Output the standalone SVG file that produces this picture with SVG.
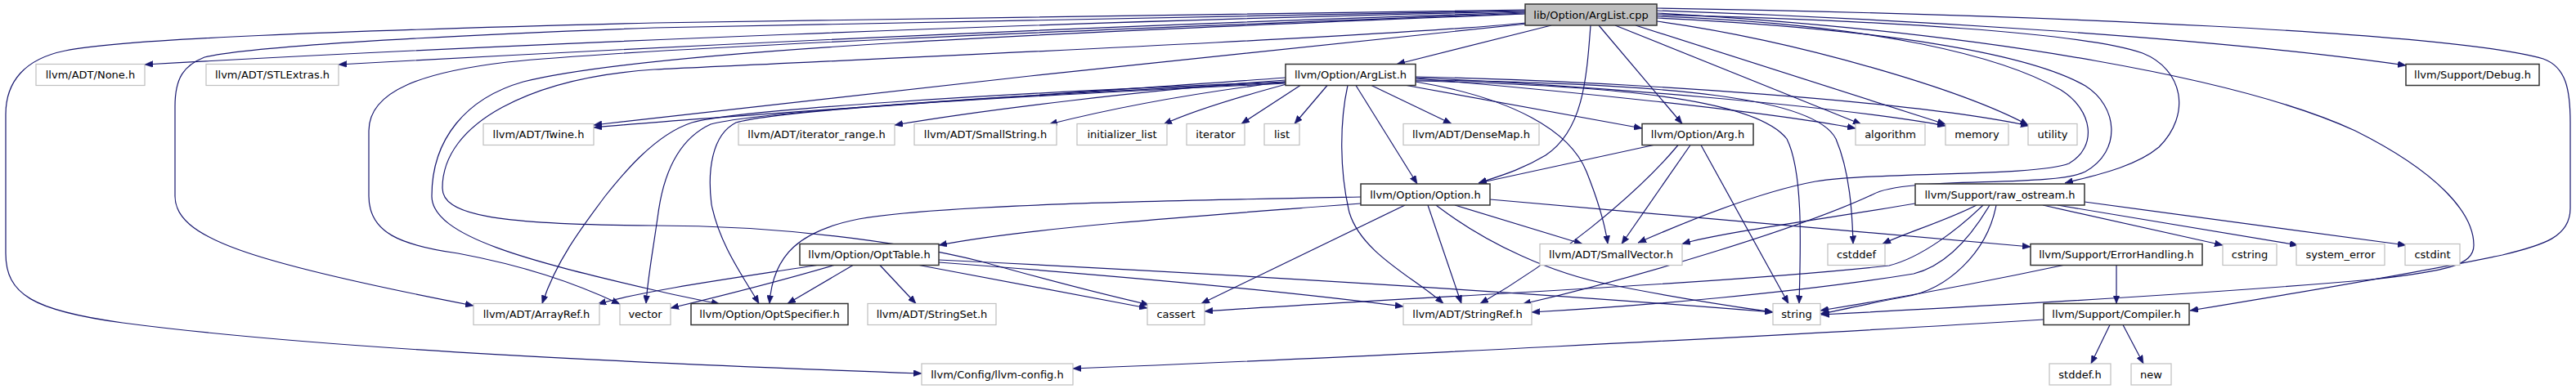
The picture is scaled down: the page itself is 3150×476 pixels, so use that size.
<svg xmlns="http://www.w3.org/2000/svg" width="3150" height="476" viewBox="0 0 3150 476">
<style>
.e{fill:none;stroke:#191970;stroke-width:1.2;marker-end:url(#a)}
.n rect{fill:#fff;stroke:#bfbfbf;stroke-width:1.2}
.d rect{fill:#fff;stroke:#333;stroke-width:1.5}
.r rect{fill:#bfbfbf;stroke:#333;stroke-width:1.5}
text{font-family:"DejaVu Sans","Liberation Sans",sans-serif;font-size:13px;text-anchor:middle;fill:#000}
</style>
<defs>
<marker id="a" markerUnits="userSpaceOnUse" markerWidth="11" markerHeight="8" refX="10" refY="4" orient="auto">
<path d="M0,0 L10,4 L0,8 z" fill="#191970" stroke="#191970" stroke-width="0.5"/>
</marker>
</defs>
<rect width="3150" height="476" fill="#fff"/>
<g id="edges">
<path class="e" d="M1865,12 L800,28 C400,38 150,48 80,62 C30,72 7,100 7,140 L7,310 C7,360 40,380 150,395 C400,428 800,445 1127,457"/>
<path class="e" d="M1865,13 L800,34 C500,45 300,58 250,70 C225,80 214,95 214,130 L214,240 C214,290 300,320 579,374"/>
<path class="e" d="M1865,14 C1300,26 600,55 177,79"/>
<path class="e" d="M1865,15 C1400,30 900,52 414,79"/>
<path class="e" d="M1865,16 C1300,38 800,58 620,76 C520,88 451,110 451,160 L451,240 C451,285 490,300 560,310 C640,325 700,345 758,372"/>
<path class="e" d="M1865,17 C1300,40 800,60 640,100 C570,120 528,170 528,240 C528,290 650,320 800,355 C830,362 860,368 880,372"/>
<path class="e" d="M1866,28 C1700,45 1000,75 800,85 C650,95 541,150 541,230 C541,262 600,275 800,276 C950,276 1100,295 1200,320 C1300,348 1370,365 1405,373"/>
<path class="e" d="M1868,29 C1700,45 1000,120 726,153"/>
<path class="e" d="M1897,31 L1708,78.5"/>
<path class="e" d="M1945,31 C1940,100 1935,160 1890,190 C1860,208 1835,215 1808,224"/>
<path class="e" d="M1955,31 L2057,151.5"/>
<path class="e" d="M1975,31 L2276,152"/>
<path class="e" d="M2000,31 L2379,152"/>
<path class="e" d="M2026,26 C2200,50 2400,110 2480,153"/>
<path class="e" d="M2026,18 C2300,25 2550,40 2620,65 C2670,85 2680,140 2640,180 C2610,205 2560,215 2525,224"/>
<path class="e" d="M2026,13 C2300,22 2700,45 2942,80"/>
<path class="e" d="M2026,10 C2500,18 3000,40 3110,72 C3138,82 3143,110 3143,150 L3143,255 C3143,290 3110,300 3060,312 C2950,335 2800,360 2678,380"/>
<path class="e" d="M2026,16 C2450,40 2750,100 2880,160 C2980,210 3025,260 3025,300 C3025,325 2990,332 2900,342 C2700,360 2400,376 2227,385"/>
<path class="e" d="M2026,20 C2300,30 2450,70 2520,110 C2560,135 2565,180 2530,200 C2490,216 2300,210 2220,222 C2150,235 2060,272 2003,297"/>
<path class="e" d="M2026,22 C2300,35 2480,65 2550,105 C2590,130 2595,185 2550,210 C2510,230 2330,215 2290,238 C2200,280 2000,340 1862,372"/>
<path class="e" d="M1572,95 C1300,115 900,140 726,156"/>
<path class="e" d="M1572,98 C1400,110 1200,135 1094,153"/>
<path class="e" d="M1572,100 C1450,115 1350,135 1283,152"/>
<path class="e" d="M1573,103 C1510,120 1460,135 1423,152"/>
<path class="e" d="M1590,104.5 L1518,151.5"/>
<path class="e" d="M1623,104.5 L1583,151.5"/>
<path class="e" d="M1677,104.5 L1775,151.5"/>
<path class="e" d="M1658,104.5 L1733,225"/>
<path class="e" d="M1720,104.5 L2008,157"/>
<path class="e" d="M1648,104.5 C1638,150 1638,210 1650,260 C1665,310 1730,340 1765,371.5"/>
<path class="e" d="M1731,100 C1850,120 1920,160 1940,210 C1952,240 1962,270 1966,298.5"/>
<path class="e" d="M1731,96 C1900,110 2150,135 2269,157"/>
<path class="e" d="M1731,95 C1950,105 2250,130 2379,154"/>
<path class="e" d="M1731,94 C2000,100 2350,125 2481,154"/>
<path class="e" d="M1731,98 C2050,102 2220,120 2245,170 C2262,210 2265,260 2266,298.5"/>
<path class="e" d="M1731,99 C2000,105 2150,125 2185,170 C2205,210 2202,300 2200,371.5"/>
<path class="e" d="M1572,100 C1200,115 900,135 846,150 C800,165 760,215 740,240 C710,280 680,320 663,371.5"/>
<path class="e" d="M1572,101 C1200,118 920,138 869,152 C830,170 812,210 805,260 C798,310 792,340 790,371.5"/>
<path class="e" d="M1572,102 C1200,120 950,135 900,150 C870,165 865,210 870,250 C880,300 910,340 928,371.5"/>
<path class="e" d="M2022,177.5 L1808,224"/>
<path class="e" d="M2052,177.5 C2000,240 1900,320 1810,371.5"/>
<path class="e" d="M2067,177.5 L1983,298.5"/>
<path class="e" d="M2080,177.5 L2187,371.5"/>
<path class="e" d="M1779,251 L1935,298.5"/>
<path class="e" d="M1746,251 L1787,371.5"/>
<path class="e" d="M1756,251 C1820,300 1900,335 1968,348 C2050,365 2120,375 2168,382"/>
<path class="e" d="M1718,251 L1469,371.5"/>
<path class="e" d="M1664,249 C1450,265 1250,280 1148,300"/>
<path class="e" d="M1664,241 C1450,245 1150,250 1050,268 C980,282 945,310 941,371.5"/>
<path class="e" d="M1822,244 L2483,302"/>
<path class="e" d="M999,324.5 C900,340 790,355 731,372"/>
<path class="e" d="M1020,324.5 C950,345 870,365 820,377"/>
<path class="e" d="M1043,324.5 L963,371.5"/>
<path class="e" d="M1076,324.5 L1120,371.5"/>
<path class="e" d="M1124,324.5 L1403,377"/>
<path class="e" d="M1148,318 C1500,335 1900,360 2168,382"/>
<path class="e" d="M1148,321 C1400,340 1600,360 1716,375"/>
<path class="e" d="M2342,249 C2250,265 2100,285 2057,298.5"/>
<path class="e" d="M2417,251 C2380,270 2330,285 2302,298.5"/>
<path class="e" d="M2425,251 C2395,280 2350,315 2310,325 C2100,348 1700,365 1473,381"/>
<path class="e" d="M2433,251 C2410,290 2380,325 2340,335 C2200,358 2000,375 1873,382"/>
<path class="e" d="M2441,251 C2430,310 2380,355 2330,363 C2290,370 2260,378 2226,384"/>
<path class="e" d="M2498,251 L2718,300"/>
<path class="e" d="M2516,251 L2810,300"/>
<path class="e" d="M2549,247 L2942,300"/>
<path class="e" d="M2588,324.5 L2588,371.5"/>
<path class="e" d="M2523,324.5 C2450,340 2350,360 2226,380"/>
<path class="e" d="M2499,391 C2200,410 1600,440 1312,451"/>
<path class="e" d="M2580,397.5 L2557,445"/>
<path class="e" d="M2596,397.5 L2621,445"/>
</g>
<g id="n0" class="r"><rect x="1865" y="5" width="161" height="26"/><text x="1945.5" y="22.5">lib/Option/ArgList.cpp</text></g>
<g id="n1" class="n"><rect x="44" y="78.5" width="133" height="26"/><text x="110.5" y="96">llvm/ADT/None.h</text></g>
<g id="n2" class="n"><rect x="252" y="78.5" width="162" height="26"/><text x="333" y="96">llvm/ADT/STLExtras.h</text></g>
<g id="n3" class="d"><rect x="1572" y="78.5" width="159" height="26"/><text x="1651.5" y="96">llvm/Option/ArgList.h</text></g>
<g id="n4" class="d"><rect x="2942" y="78.5" width="163" height="26"/><text x="3023.5" y="96">llvm/Support/Debug.h</text></g>
<g id="n5" class="n"><rect x="591" y="151.5" width="135" height="26"/><text x="658.5" y="169">llvm/ADT/Twine.h</text></g>
<g id="n6" class="n"><rect x="903" y="151.5" width="191" height="26"/><text x="998.5" y="169">llvm/ADT/iterator_range.h</text></g>
<g id="n7" class="n"><rect x="1118" y="151.5" width="174" height="26"/><text x="1205" y="169">llvm/ADT/SmallString.h</text></g>
<g id="n8" class="n"><rect x="1317" y="151.5" width="110" height="26"/><text x="1372" y="169">initializer_list</text></g>
<g id="n9" class="n"><rect x="1451" y="151.5" width="71" height="26"/><text x="1486.5" y="169">iterator</text></g>
<g id="n10" class="n"><rect x="1546" y="151.5" width="43" height="26"/><text x="1567.5" y="169">list</text></g>
<g id="n11" class="n"><rect x="1716" y="151.5" width="166" height="26"/><text x="1799" y="169">llvm/ADT/DenseMap.h</text></g>
<g id="n12" class="d"><rect x="2008" y="151.5" width="136" height="26"/><text x="2076" y="169">llvm/Option/Arg.h</text></g>
<g id="n13" class="n"><rect x="2269" y="151.5" width="85" height="26"/><text x="2311.5" y="169">algorithm</text></g>
<g id="n14" class="n"><rect x="2379" y="151.5" width="77" height="26"/><text x="2417.5" y="169">memory</text></g>
<g id="n15" class="n"><rect x="2480" y="151.5" width="60" height="26"/><text x="2510" y="169">utility</text></g>
<g id="n16" class="d"><rect x="1664" y="225" width="158" height="26"/><text x="1743" y="242.5">llvm/Option/Option.h</text></g>
<g id="n17" class="d"><rect x="2342" y="225" width="207" height="26"/><text x="2445.5" y="242.5">llvm/Support/raw_ostream.h</text></g>
<g id="n18" class="d"><rect x="978" y="298.5" width="170" height="26"/><text x="1063" y="316">llvm/Option/OptTable.h</text></g>
<g id="n19" class="n"><rect x="1883" y="298.5" width="174" height="26"/><text x="1970" y="316">llvm/ADT/SmallVector.h</text></g>
<g id="n20" class="n"><rect x="2235" y="298.5" width="70" height="26"/><text x="2270" y="316">cstddef</text></g>
<g id="n21" class="d"><rect x="2483" y="298.5" width="210" height="26"/><text x="2588" y="316">llvm/Support/ErrorHandling.h</text></g>
<g id="n22" class="n"><rect x="2718" y="298.5" width="66" height="26"/><text x="2751" y="316">cstring</text></g>
<g id="n23" class="n"><rect x="2808" y="298.5" width="108" height="26"/><text x="2862" y="316">system_error</text></g>
<g id="n24" class="n"><rect x="2941" y="298.5" width="67" height="26"/><text x="2974.5" y="316">cstdint</text></g>
<g id="n25" class="n"><rect x="579" y="371.5" width="154" height="26"/><text x="656" y="389">llvm/ADT/ArrayRef.h</text></g>
<g id="n26" class="n"><rect x="758" y="371.5" width="62" height="26"/><text x="789" y="389">vector</text></g>
<g id="n27" class="d"><rect x="845" y="371.5" width="192" height="26"/><text x="941" y="389">llvm/Option/OptSpecifier.h</text></g>
<g id="n28" class="n"><rect x="1061" y="371.5" width="157" height="26"/><text x="1139.5" y="389">llvm/ADT/StringSet.h</text></g>
<g id="n29" class="n"><rect x="1403" y="371.5" width="70" height="26"/><text x="1438" y="389">cassert</text></g>
<g id="n30" class="n"><rect x="1716" y="371.5" width="157" height="26"/><text x="1794.5" y="389">llvm/ADT/StringRef.h</text></g>
<g id="n31" class="n"><rect x="2168" y="371.5" width="58" height="26"/><text x="2197" y="389">string</text></g>
<g id="n32" class="d"><rect x="2499" y="371.5" width="178" height="26"/><text x="2588" y="389">llvm/Support/Compiler.h</text></g>
<g id="n33" class="n"><rect x="1127" y="445" width="185" height="26"/><text x="1219.5" y="462.5">llvm/Config/llvm-config.h</text></g>
<g id="n34" class="n"><rect x="2506" y="445" width="75" height="26"/><text x="2543.5" y="462.5">stddef.h</text></g>
<g id="n35" class="n"><rect x="2606" y="445" width="49" height="26"/><text x="2630.5" y="462.5">new</text></g>
</svg>
